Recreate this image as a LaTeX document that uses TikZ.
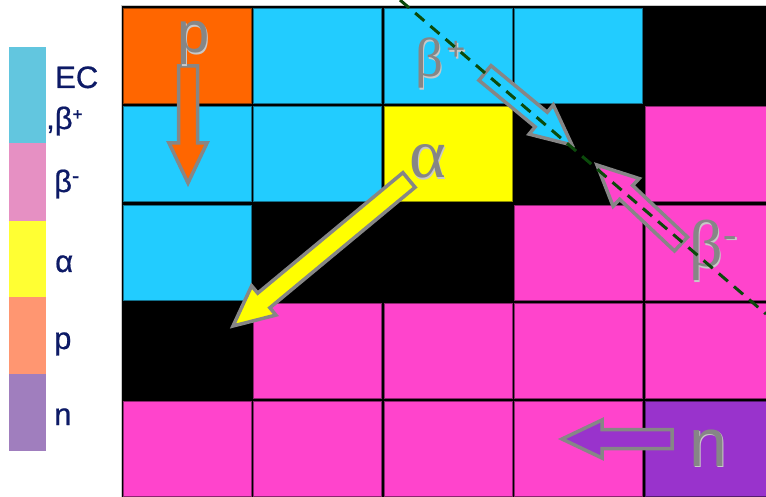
\documentclass[tikz,border=0pt]{standalone}
\usepackage{fontspec}
\setmainfont{Liberation Sans}
\newfontfamily\grk{Liberation Serif}
\newfontfamily\legf[FakeBold=0.6]{Liberation Sans}
\usetikzlibrary{calc}
\definecolor{gOr}{HTML}{FF6600}
\definecolor{gCy}{HTML}{22CCFF}
\definecolor{gYe}{HTML}{FFFF00}
\definecolor{gMa}{HTML}{FF44CC}
\definecolor{gPu}{HTML}{9933CC}
\definecolor{lCy}{HTML}{62C6DF}
\definecolor{lPi}{HTML}{E690C3}
\definecolor{lYe}{HTML}{FFFF33}
\definecolor{lSa}{HTML}{FF9671}
\definecolor{lPu}{HTML}{A07EBE}
\definecolor{navy}{HTML}{0D1A66}
\definecolor{agrey}{HTML}{868686}
\definecolor{lgrey}{HTML}{C8C8C8}
\definecolor{dgreen}{HTML}{0B4A0B}
\newcommand\blockarr[3]{%
  \coordinate (#1B) at ($(#2)!40pt!(#1)$);
  \draw[blockarrow,fill=#3] ($(#1)!9.5pt!90:(#2)$) -- ($(#1B)!9.5pt!90:(#2)$) -- ($(#1B)!19pt!90:(#2)$) -- (#2) -- ($(#1B)!19pt!-90:(#2)$) -- ($(#1B)!9.5pt!-90:(#2)$) -- ($(#1)!9.5pt!-90:(#2)$) -- cycle;}
\newcommand\glabel[4]{%
  \node[glbl,text=lgrey] at ($(#2)+(1.5,1.5)$) {#3#4};
  \node[glbl] (#1) at (#2) {#3#4};}
\begin{document}
\begin{tikzpicture}[x=1pt,y=-1pt,
  cell/.style={rectangle,anchor=north west,minimum width=128pt,minimum height=95pt,inner sep=0pt,line width=0.8pt,fill=#1,draw=#1!55!black},
  legbox/.style={rectangle,anchor=north west,minimum width=37pt,inner sep=0pt,fill=#1},
  leglbl/.style={anchor=base west,inner sep=0pt,text=navy,font=\legf\fontsize{31}{31}\selectfont},
  blockarrow/.style={draw=agrey,line width=3.5pt,line join=miter},
  glbl/.style={anchor=base west,inner sep=0pt,text=agrey},
  dashline/.style={draw=dgreen,line width=3pt,dash pattern=on 12pt off 8pt}]
\useasboundingbox (0,0) rectangle (766,497);
\clip (0,0) rectangle (766,497);
% grid background
\fill[white] (0,0) rectangle (766,497);
\node[rectangle,anchor=north west,inner sep=0pt,minimum width=660pt,minimum height=500pt,fill=black,draw=lgrey,line width=0.8pt] (grid) at (120.5,5) {};
% row 1
\node[cell=gOr] (c11) at (123,8) {};
\node[cell=gCy] (c12) at (253,8) {};
\node[cell=gCy] (c13) at (384,8) {};
\node[cell=gCy] (c14) at (514,8) {};
% row 2
\node[cell=gCy] (c21) at (123,106) {};
\node[cell=gCy] (c22) at (253,106) {};
\node[cell=gYe] (c23) at (384,106) {};
\node[cell=gMa] (c25) at (645,106) {};
% row 3
\node[cell=gCy] (c31) at (123,205) {};
\node[cell=gMa] (c34) at (514,205) {};
\node[cell=gMa] (c35) at (645,205) {};
% row 4
\node[cell=gMa] (c42) at (253,303) {};
\node[cell=gMa] (c43) at (384,303) {};
\node[cell=gMa] (c44) at (514,303) {};
\node[cell=gMa] (c45) at (645,303) {};
% row 5
\node[cell=gMa] (c51) at (123,401) {};
\node[cell=gMa] (c52) at (253,401) {};
\node[cell=gMa] (c53) at (384,401) {};
\node[cell=gMa] (c54) at (514,401) {};
\node[cell=gPu] (c55) at (645,401) {};
% legend
\node[legbox=lCy,minimum height=96pt] (lg1) at (9,47) {};
\node[legbox=lPi,minimum height=78pt] (lg2) at (9,143) {};
\node[legbox=lYe,minimum height=76pt] (lg3) at (9,221) {};
\node[legbox=lSa,minimum height=77pt] (lg4) at (9,297) {};
\node[legbox=lPu,minimum height=77pt] (lg5) at (9,374) {};
\node[leglbl] (t1) at (55,88) {EC};
\node[leglbl] (t2) at (46,129) {,β\raisebox{9pt}{\fontsize{17}{17}\selectfont +}};
\node[leglbl] (t3) at (54,192) {β\raisebox{9pt}{\fontsize{22}{22}\selectfont -}};
\node[leglbl] (t4) at (55,272) {α};
\node[leglbl] (t5) at (54,349) {p};
\node[leglbl] (t6) at (54,425) {n};
% arrows
\coordinate (pS) at (188,66);   \coordinate (pT) at (188,183);
\coordinate (aS) at (409,180);  \coordinate (aT) at (233,326);
\coordinate (bpS) at (485,73);  \coordinate (bpT) at (572,145);
\coordinate (bmS) at (681,244); \coordinate (bmT) at (597,165);
\coordinate (nS) at (672,439);  \coordinate (nT) at (562,439);
\blockarr{pS}{pT}{gOr}
\blockarr{aS}{aT}{gYe}
\blockarr{bpS}{bpT}{gCy}
\blockarr{bmS}{bmT}{gMa}
\blockarr{nS}{nT}{gPu}
% grid labels
\glabel{lp}{177,53}{\fontsize{58}{58}\selectfont}{p}
\glabel{ln}{689,466}{\fontsize{68}{68}\selectfont}{n}
\glabel{lbp}{415,77}{\grk\fontsize{55}{55}\selectfont}{β\hspace{3pt}\raisebox{16pt}{\fontsize{34}{34}\selectfont\bfseries +}}
\glabel{lbm}{689,267}{\grk\fontsize{66}{66}\selectfont}{β\hspace{1pt}\raisebox{20pt}{\fontsize{40}{40}\selectfont -}}
\glabel{la}{409,178}{\grk\fontsize{70}{70}\selectfont}{α}
% dashed line
\coordinate (dA) at (400,0);
\coordinate (dB) at (766,314);
\draw[dashline] (dA) -- (dB);
\end{tikzpicture}
\end{document}
